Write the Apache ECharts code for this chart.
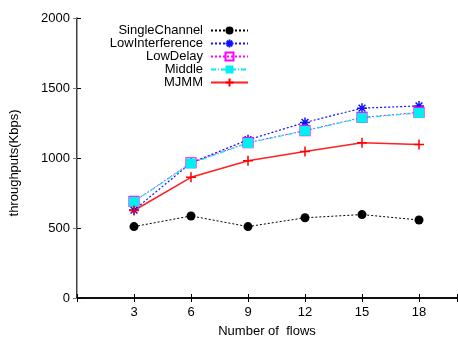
<!DOCTYPE html>
<html>
<head>
<meta charset="utf-8">
<script src="https://cdn.jsdelivr.net/npm/echarts@6/dist/echarts.min.js"></script>
<style>
  html, body { margin: 0; padding: 0; background: #fff; }
  #chart { width: 458px; height: 342px; }
</style>
</head>
<body>
<div id="chart"></div>
<script>
// Throughput versus number of flows for five channel-assignment schemes
const flows = [3, 6, 9, 12, 15, 18];
const singleChannel   = [510, 586, 510, 573, 596, 557];
const lowInterference = [628, 965, 1130, 1254, 1356, 1372];
const lowDelay        = [690, 966, 1110, 1196, 1290, 1326];
const middle          = [688, 961, 1107, 1194, 1287, 1322];
const mjmm            = [625, 862, 981, 1047, 1109, 1097];
const yTicks = [0, 500, 1000, 1500, 2000];

const FONT = 'Liberation Sans';
const pairs = (ys) => flows.map((x, i) => [x, ys[i]]);

const ASTERISK = 'path://M0,5L10,5M5,0L5,10M1.6,1.6L8.4,8.4M1.6,8.4L8.4,1.6';
const PLUS = 'path://M0,5L10,5M5,0L5,10';

const chart = echarts.init(document.getElementById('chart'), null, { renderer: 'canvas' });

const series = [
  {
    name: 'SingleChannel', data: pairs(singleChannel),
    symbol: 'circle', symbolSize: 9,
    itemStyle: { color: '#000' },
    lineStyle: { color: '#000', width: 1, type: [2, 2] }
  },
  {
    name: 'LowInterference', data: pairs(lowInterference),
    symbol: ASTERISK, symbolSize: 10,
    itemStyle: { color: '#1010ff', borderColor: '#1010ff', borderWidth: 1.5 },
    lineStyle: { color: '#1010ff', width: 1.2, type: [2, 2] }
  },
  {
    name: 'LowDelay', data: pairs(lowDelay),
    symbol: 'rect', symbolSize: 10,
    itemStyle: { color: 'rgba(255,255,255,0)', borderColor: '#ff00ff', borderWidth: 1.2 },
    lineStyle: { color: '#ff00ff', width: 1, type: [2, 2] }
  },
  {
    name: 'Middle', data: pairs(middle),
    symbol: 'rect', symbolSize: 10,
    itemStyle: { color: '#00f0f0' },
    lineStyle: { color: '#00f0f0', width: 1.2, type: [5, 2, 1, 2] }
  },
  {
    name: 'MJMM', data: pairs(mjmm),
    symbol: PLUS, symbolSize: 10,
    itemStyle: { color: '#ff0000', borderColor: '#ff0000', borderWidth: 1.5 },
    lineStyle: { color: '#ff2020', width: 1.5 }
  }
].map(s => Object.assign({ type: 'line', showSymbol: true, animation: false }, s));

chart.setOption({
  backgroundColor: '#fff',
  animation: false,
  textStyle: { fontFamily: FONT },
  grid: { left: 77, right: 1, top: 18, bottom: 44, containLabel: false, outerBoundsMode: 'none' },
  legend: {
    orient: 'vertical',
    align: 'right',
    left: 70, top: 19,
    itemWidth: 37, itemHeight: 10, itemGap: 0,
    selectedMode: false,
    data: series.map(s => s.name),
    textStyle: {
      fontFamily: FONT, fontSize: 13, lineHeight: 13, color: '#000',
      width: 128, align: 'right', padding: [0, 3, 0, 0]
    }
  },
  xAxis: [
    {
      type: 'value', min: 0, max: 20, interval: 3,
      name: 'Number of  flows', nameLocation: 'middle', nameGap: 27,
      nameTextStyle: { fontFamily: FONT, fontSize: 13, color: '#000' },
      axisLine: { lineStyle: { color: '#000', width: 1.5 } },
      axisTick: { inside: true, length: 4, lineStyle: { color: '#000' } },
      axisLabel: {
        fontFamily: FONT, fontSize: 13, color: '#000', margin: 8,
        formatter: v => (flows.indexOf(v) >= 0 ? String(v) : '')
      },
      splitLine: { show: false }
    },
    {
      type: 'value', position: 'top', min: 0, max: 20, interval: 3,
      axisLine: { show: true, lineStyle: { color: '#000', width: 1.5 } },
      axisTick: { inside: true, length: 4, lineStyle: { color: '#000' } },
      axisLabel: { show: false },
      splitLine: { show: false }
    }
  ],
  yAxis: [
    {
      type: 'value', min: yTicks[0], max: yTicks[yTicks.length - 1], interval: 500,
      name: 'throughputs(Kbps)', nameLocation: 'middle', nameGap: 56,
      nameTextStyle: { fontFamily: FONT, fontSize: 13, color: '#000', padding: [0, 10, 0, 0] },
      axisLine: { show: true, lineStyle: { color: '#000', width: 1.5 } },
      axisTick: { show: true, inside: true, length: 4, lineStyle: { color: '#000' } },
      axisLabel: { fontFamily: FONT, fontSize: 13, color: '#000', margin: 7, formatter: v => String(v) },
      splitLine: { show: false }
    },
    {
      type: 'value', position: 'right', min: 0, max: 2000, interval: 500,
      axisLine: { show: true, lineStyle: { color: '#a0a0a0', width: 1 } },
      axisTick: { show: true, inside: true, length: 4, lineStyle: { color: '#808080' } },
      axisLabel: { show: false },
      splitLine: { show: false }
    }
  ],
  series: series
});
</script>
</body>
</html>
